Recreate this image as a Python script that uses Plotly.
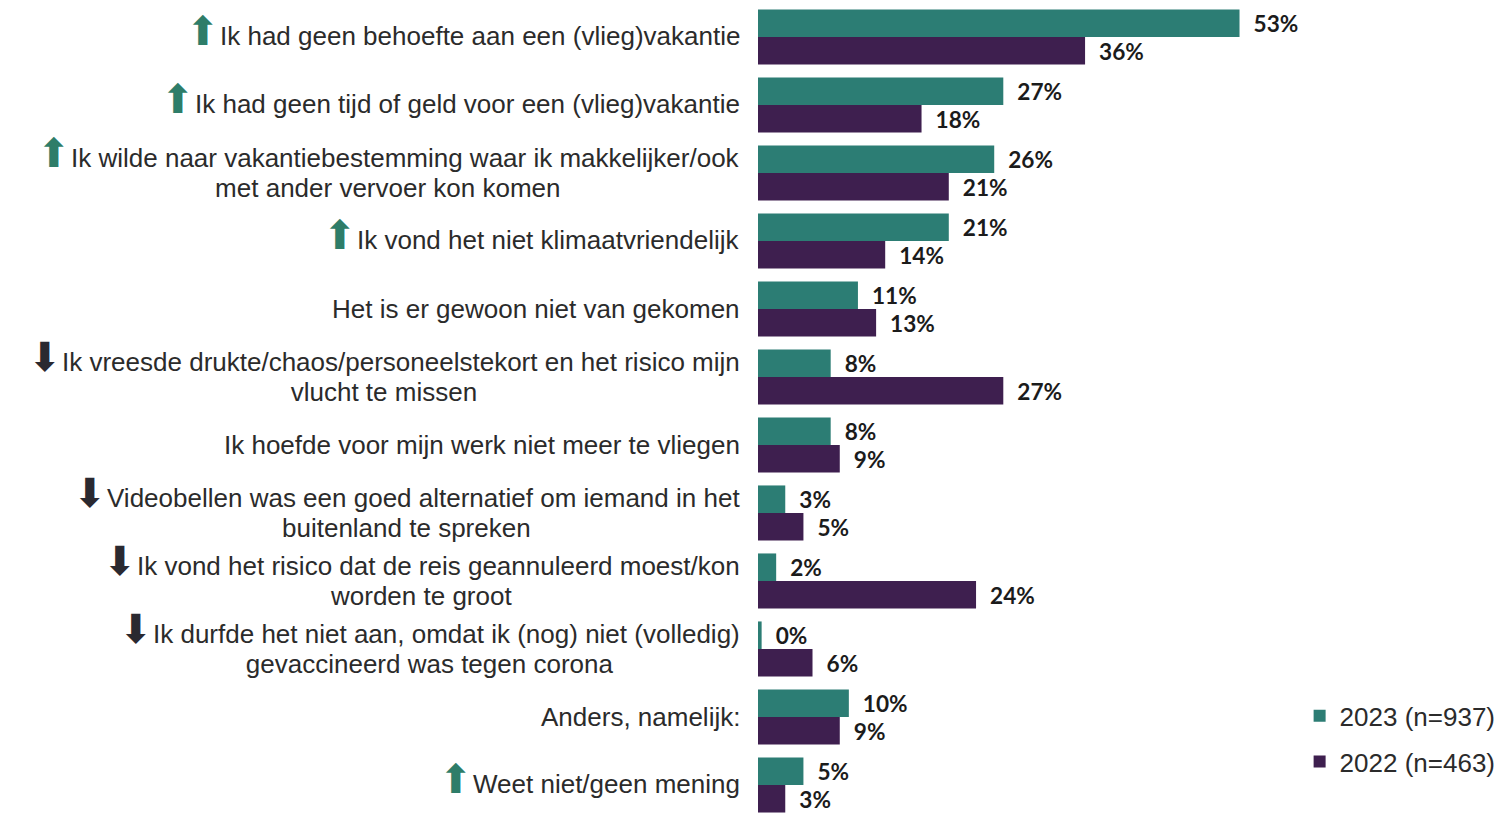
import plotly.graph_objects as go

categories = [
    "Ik had geen behoefte aan een (vlieg)vakantie",
    "Ik had geen tijd of geld voor een (vlieg)vakantie",
    "Ik wilde naar vakantiebestemming waar ik makkelijker/ook<br>met ander vervoer kon komen",
    "Ik vond het niet klimaatvriendelijk",
    "Het is er gewoon niet van gekomen",
    "Ik vreesde drukte/chaos/personeelstekort en het risico mijn<br>vlucht te missen",
    "Ik hoefde voor mijn werk niet meer te vliegen",
    "Videobellen was een goed alternatief om iemand in het<br>buitenland te spreken",
    "Ik vond het risico dat de reis geannuleerd moest/kon<br>worden te groot",
    "Ik durfde het niet aan, omdat ik (nog) niet (volledig)<br>gevaccineerd was tegen corona",
    "Anders, namelijk:",
    "Weet niet/geen mening",
]
# trend arrow per category: "up", "down" or ""
trends = ["up", "up", "up", "up", "", "down", "", "down", "down", "down", "", "up"]
values_2023 = [53, 27, 26, 21, 11, 8, 8, 3, 2, 0.4, 10, 5]
values_2022 = [36, 18, 21, 14, 13, 27, 9, 5, 24, 6, 9, 3]
series_names = ["2023 (n=937)", "2022 (n=463)"]

TEAL = "#2c7d74"
PURPLE = "#3e1f4f"
UP_COL = "#2e7d69"
DOWN_COL = "#2a2930"
TEXT_COL = "#2b2b2b"

idx = list(range(len(categories)))

value_font = dict(family="Lato", size=23, color="#1b1b1b", weight="bold")

fig = go.Figure()
fig.add_trace(go.Bar(
    y=idx, x=values_2023, orientation="h", name=series_names[0],
    marker=dict(color=TEAL, line=dict(width=0)),
    texttemplate="  %{x:.0f}%", textposition="outside",
    textfont=value_font, cliponaxis=False, legendgroup="a",
))
fig.add_trace(go.Bar(
    y=idx, x=values_2022, orientation="h", name=series_names[1],
    marker=dict(color=PURPLE, line=dict(width=0)),
    texttemplate="  %{x:.0f}%", textposition="outside",
    textfont=value_font, cliponaxis=False, legendgroup="b",
))

annotations = []
for i, (cat, tr) in enumerate(zip(categories, trends)):
    lines = [f"<span style='font-size:26px'>{ln}</span>" for ln in cat.split("<br>")]
    yshift = 0
    if tr:
        col = UP_COL if tr == "up" else DOWN_COL
        glyph = "⬆" if tr == "up" else "⬇"
        lines[0] = (f"<span style='font-size:40px;color:{col}'>{glyph}</span>"
                    + lines[0])
        yshift = 6
    annotations.append(dict(
        x=0, y=i, xref="x", yref="y", text="<br>".join(lines), showarrow=False,
        xanchor="right", yanchor="middle", align="center", xshift=-16,
        yshift=yshift,
        font=dict(family="Liberation Sans, Arial", size=23, color=TEXT_COL),
    ))

fig.update_layout(
    width=1503, height=813,
    margin=dict(l=758, r=0, t=0, b=0),
    paper_bgcolor="white", plot_bgcolor="white",
    barmode="group", bargap=0.19, bargroupgap=0,
    showlegend=True,
    legend=dict(
        x=0.727, y=0.034, xanchor="left", yanchor="bottom",
        font=dict(family="Liberation Sans, Arial", size=26, color=TEXT_COL),
        tracegroupgap=9, bgcolor="rgba(0,0,0,0)",
    ),
    xaxis=dict(range=[0, 82], visible=False, fixedrange=True),
    yaxis=dict(range=[11.412, -0.544], visible=False, fixedrange=True),
    annotations=annotations,
)

fig.write_html("out.html", config={"displayModeBar": False},
               post_script="document.body.style.margin='0';")
